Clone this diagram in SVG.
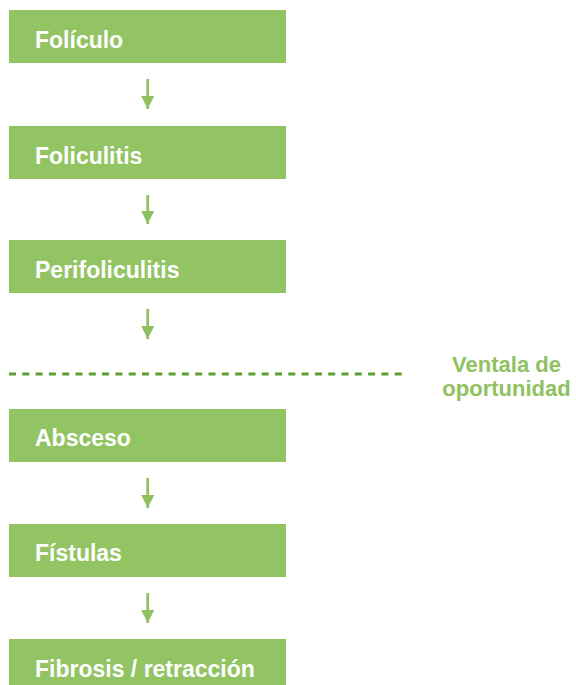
<svg xmlns="http://www.w3.org/2000/svg" width="576" height="685" viewBox="0 0 576 685">
<style>
.box{fill:#93c463}
.lbl{font-family:"Liberation Sans",Arial,sans-serif;font-weight:bold;font-size:23px;fill:#ffffff}
.note{font-family:"Liberation Sans",Arial,sans-serif;font-weight:bold;font-size:22px;fill:#8fc25f;text-anchor:middle}
.arr{stroke:#8fc25f;stroke-width:2.7;fill:none}
.dash{stroke:#5c9e31;stroke-width:3;stroke-dasharray:7 6.3;fill:none}
</style>
<defs>
<marker id="ah" viewBox="0 0 10 10" refX="10" refY="5" markerWidth="14" markerHeight="13" markerUnits="userSpaceOnUse" orient="auto">
<path d="M0,0 L10,5 L0,10 Z" fill="#8fc25f"/>
</marker>
</defs>
<rect width="576" height="685" fill="#ffffff"/>
<g id="n1"><rect class="box" x="9" y="10" width="277" height="53"/><text class="lbl" x="35" y="48">Folículo</text></g>
<g id="n2"><rect class="box" x="9" y="126" width="277" height="53"/><text class="lbl" x="35" y="164">Foliculitis</text></g>
<g id="n3"><rect class="box" x="9" y="240" width="277" height="53"/><text class="lbl" x="35" y="278">Perifoliculitis</text></g>
<g id="n4"><rect class="box" x="9" y="409" width="277" height="53"/><text class="lbl" x="35" y="446">Absceso</text></g>
<g id="n5"><rect class="box" x="9" y="524" width="277" height="53"/><text class="lbl" x="35" y="561">Fístulas</text></g>
<g id="n6"><rect class="box" x="9" y="639" width="277" height="53"/><text class="lbl" x="35" y="677">Fibrosis / retracción</text></g>
<g id="window">
<line class="dash" x1="9" y1="374" x2="404" y2="374"/>
<text class="note" x="506.5" y="372">Ventala de</text>
<text class="note" x="506.5" y="396">oportunidad</text>
</g>
<g id="connectors">
<line class="arr" x1="147.7" y1="79" x2="147.7" y2="109" marker-end="url(#ah)"/>
<line class="arr" x1="147.7" y1="195" x2="147.7" y2="224" marker-end="url(#ah)"/>
<line class="arr" x1="147.7" y1="309" x2="147.7" y2="339" marker-end="url(#ah)"/>
<line class="arr" x1="147.7" y1="478" x2="147.7" y2="508" marker-end="url(#ah)"/>
<line class="arr" x1="147.7" y1="593" x2="147.7" y2="623" marker-end="url(#ah)"/>
</g>
</svg>
